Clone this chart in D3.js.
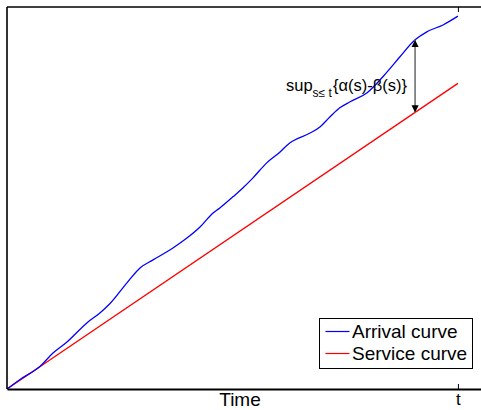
<!DOCTYPE html>
<html>
<head>
<meta charset="utf-8">
<script src="https://cdn.jsdelivr.net/npm/d3@7"></script>
<style>
  body { margin: 0; background: #fff; }
  svg { display: block; font-family: "Liberation Sans", Arial, sans-serif; }
</style>
</head>
<body>
<div id="chart"></div>
<script>
// Arrival vs service curve with the backlog bound sup{α(s)-β(s)}

// ── Data ──────────────────────────────────────────────────────────────────
const arrivalTime  = [0, 0.29, 0.73, 1.02, 1.33, 1.77, 2.06, 2.28, 2.66, 2.95, 3.24, 3.68, 3.99,
                      4.28, 4.57, 4.72, 5.01, 5.23, 5.45, 5.76, 6.05, 6.27, 6.72, 6.94, 7.16,
                      7.38, 7.61, 7.98, 8.43, 8.71, 9.05, 9.31, 9.67, 10];
const arrivalValue = [0, 2.5, 5.9, 9.4, 12.3, 17.3, 19.9, 22.3, 27.8, 31.7, 33.8, 36.9, 39.5,
                      42.4, 46.1, 47.4, 50.3, 52.6, 55.2, 59.2, 62.0, 64.4, 67.0, 68.6, 71.2,
                      73.6, 75.2, 77.5, 83.0, 86.9, 91.4, 93.5, 95.3, 97.6];
const serviceTime  = [0, 10];
const serviceValue = [0, 80];
const supTime      = 9.05;            // where the vertical distance is largest
const xTickValues  = [10];
const xTickLabels  = ['t'];
const legendLabels = ['Arrival curve', 'Service curve'];
const seriesColors = ['#0000ff', '#ff0000'];

// ── Layout ────────────────────────────────────────────────────────────────
const W = 481, H = 410;
const plot = { left: 7, top: 7, right: 503, bottom: 389 };

const svg = d3.select('#chart').append('svg')
  .attr('width', W).attr('height', H);

const x = d3.scaleLinear().domain([0, 11]).range([plot.left, plot.right]);
const y = d3.scaleLinear().domain([0, 100]).range([plot.bottom, plot.top]);

// Arrow markers
const defs = svg.append('defs');
['start', 'end'].forEach(k => {
  defs.append('marker')
    .attr('id', 'arr-' + k)
    .attr('viewBox', '0 0 10 10')
    .attr('refX', k === 'end' ? 10 : 0).attr('refY', 5)
    .attr('markerWidth', 4).attr('markerHeight', 4.5)
    .attr('markerUnits', 'strokeWidth')
    .attr('orient', 'auto')
    .append('path')
    .attr('d', k === 'end' ? 'M0,0 L10,5 L0,10 z' : 'M10,0 L0,5 L10,10 z')
    .attr('fill', '#000');
});

// ── Curves ────────────────────────────────────────────────────────────────
const arrival = arrivalTime.map((t, i) => ({ t, v: arrivalValue[i] }));
const service = serviceTime.map((t, i) => ({ t, v: serviceValue[i] }));

const line = d3.line().x(d => x(d.t)).y(d => y(d.v)).curve(d3.curveMonotoneX);

svg.append('path').datum(service)
  .attr('d', line).attr('fill', 'none')
  .attr('stroke', seriesColors[1]).attr('stroke-width', 1.3);

svg.append('path').datum(arrival)
  .attr('d', line).attr('fill', 'none')
  .attr('stroke', seriesColors[0]).attr('stroke-width', 1.3);

// ── Axes box ──────────────────────────────────────────────────────────────
const box = svg.append('g').attr('stroke', '#000').attr('stroke-width', 1.6).attr('fill', 'none');
box.append('line').attr('x1', plot.left).attr('x2', plot.left).attr('y1', plot.top).attr('y2', plot.bottom);
box.append('line').attr('x1', plot.left).attr('x2', W).attr('y1', plot.top).attr('y2', plot.top);

const xAxis = svg.append('g')
  .attr('transform', `translate(0,${plot.bottom})`)
  .call(d3.axisBottom(x).tickValues(xTickValues).tickFormat((d, i) => xTickLabels[i])
    .tickSizeInner(-5).tickSizeOuter(0).tickPadding(4));
xAxis.select('.domain').attr('stroke', '#000').attr('stroke-width', 2);
xAxis.selectAll('.tick line').attr('stroke', '#000').attr('stroke-width', 1);
xAxis.selectAll('.tick text').attr('font-size', 17).attr('font-family', 'Liberation Sans, Arial, sans-serif').attr('fill', '#000');

const xTop = svg.append('g')
  .attr('transform', `translate(0,${plot.top})`)
  .call(d3.axisTop(x).tickValues(xTickValues).tickFormat('').tickSizeInner(-5).tickSizeOuter(0));
xTop.select('.domain').remove();
xTop.selectAll('.tick line').attr('stroke', '#000').attr('stroke-width', 1);

svg.append('text')
  .attr('x', 240).attr('y', 406)
  .attr('text-anchor', 'middle').attr('font-size', 19)
  .text('Time');

// ── Sup annotation ────────────────────────────────────────────────────────
const supUpper = arrivalValue[arrivalTime.indexOf(supTime)];
const supLower = serviceValue[1] / serviceTime[1] * supTime;

svg.append('line')
  .attr('x1', x(supTime)).attr('x2', x(supTime))
  .attr('y1', y(supUpper)).attr('y2', y(supLower))
  .attr('stroke', '#808080').attr('stroke-width', 1.8)
  .attr('marker-start', 'url(#arr-start)')
  .attr('marker-end', 'url(#arr-end)');

const label = svg.append('text').attr('x', 286).attr('y', 91).attr('font-size', 16.5).attr('fill', '#000');
label.append('tspan').text('sup');
label.append('tspan').attr('font-size', 12).attr('dy', 6).text('s≤ t');
label.append('tspan').attr('dy', -6).attr('dx', 1).text('{α(s)-β(s)}');

// ── Legend ────────────────────────────────────────────────────────────────
const legend = svg.append('g').attr('transform', 'translate(319.5,318.5)');
legend.append('rect')
  .attr('width', 153).attr('height', 50)
  .attr('fill', '#fff').attr('stroke', '#000').attr('stroke-width', 1);

legendLabels.forEach((name, i) => {
  const row = legend.append('g').attr('transform', `translate(0,${13 + i * 22})`);
  row.append('line').attr('x1', 6).attr('x2', 30)
    .attr('stroke', seriesColors[i]).attr('stroke-width', 1.2);
  row.append('text').attr('x', 32.5).attr('y', 6.5).attr('font-size', 19).text(name);
});
</script>
</body>
</html>
